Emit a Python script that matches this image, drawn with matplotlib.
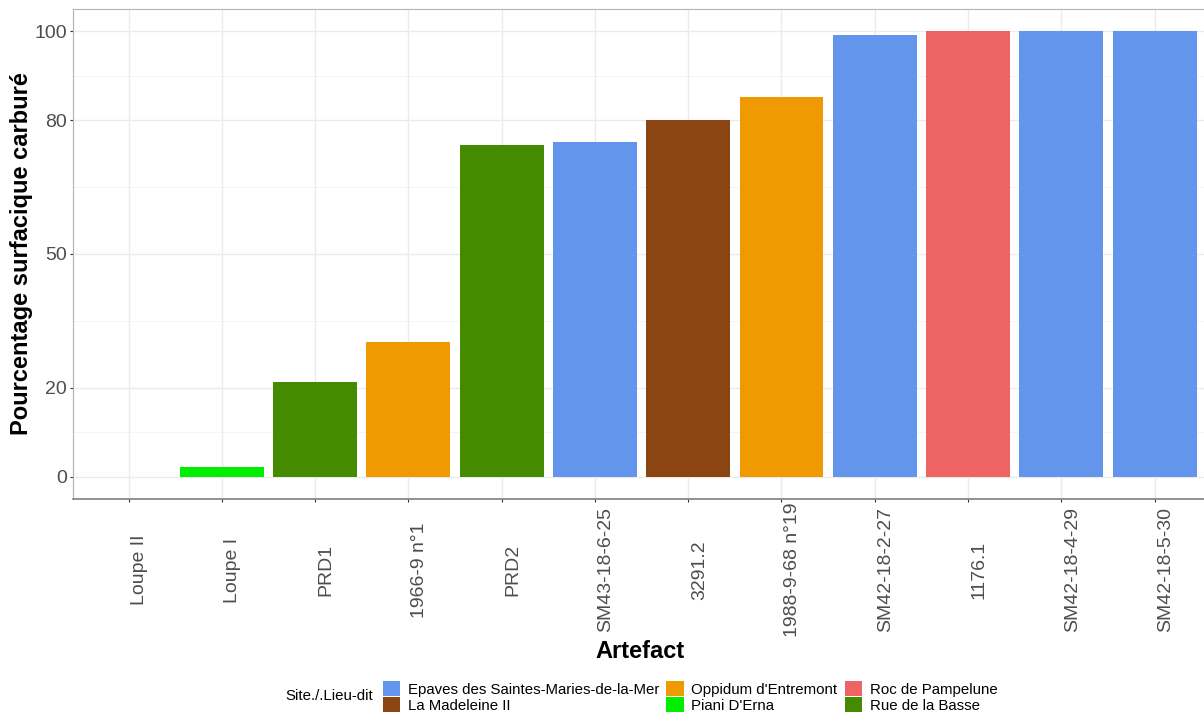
import matplotlib
matplotlib.use("Agg")
import matplotlib.pyplot as plt
from matplotlib.patches import Patch
import matplotlib.transforms as mtransforms

plt.rcParams['font.family'] = ['Liberation Sans', 'DejaVu Sans']

artefacts = ["Loupe II", "Loupe I", "PRD1", "1966-9 n°1", "PRD2", "SM43-18-6-25",
             "3291.2", "1988-9-68 n°19", "SM42-18-2-27", "1176.1", "SM42-18-4-29", "SM42-18-5-30"]
values = [0, 2.2, 21.3, 30.2, 74.5, 75.1, 80.0, 85.2, 99.1, 100, 100, 100]
sites = ["Piani D'Erna", "Piani D'Erna", "Rue de la Basse", "Oppidum d'Entremont", "Rue de la Basse",
         "Epaves des Saintes-Maries-de-la-Mer", "La Madeleine II", "Oppidum d'Entremont",
         "Epaves des Saintes-Maries-de-la-Mer", "Roc de Pampelune",
         "Epaves des Saintes-Maries-de-la-Mer", "Epaves des Saintes-Maries-de-la-Mer"]
site_order = ["Epaves des Saintes-Maries-de-la-Mer", "La Madeleine II", "Oppidum d'Entremont",
              "Piani D'Erna", "Roc de Pampelune", "Rue de la Basse"]
site_colors = ["#6495ED", "#8B4513", "#EE9A00", "#00EE00", "#EE6363", "#458B00"]
yticks = [0, 20, 50, 80, 100]
yminor = [10, 35, 65, 90]

cmap = dict(zip(site_order, site_colors))

fig = plt.figure(figsize=(12.04, 7.14), dpi=100)
# panel extends slightly beyond the right edge of the image, as in the reference
ax = fig.add_axes([72.7/1204, 1 - 499/714, (1210.5-72.7)/1204, (499-9)/714])

x = list(range(len(artefacts)))
ax.bar(x, values, width=0.9, color=[cmap[s] for s in sites], zorder=3, linewidth=0)

ax.set_xlim(-0.6, len(artefacts) - 1 + 0.6)
ax.set_ylim(-5, 105)
ax.set_yticks(yticks)
ax.set_yticks(yminor, minor=True)
ax.set_xticks(x)
ax.grid(True, which='major', color='#EBEBEB', linewidth=1.0, zorder=0)
ax.grid(True, which='minor', axis='y', color='#F2F2F2', linewidth=0.6, zorder=0)
ax.set_axisbelow(True)

for side in ['top', 'right', 'left']:
    ax.spines[side].set_color('#B3B3B3')
    ax.spines[side].set_linewidth(0.8)
ax.spines['bottom'].set_color('#7F7F7F')
ax.spines['bottom'].set_linewidth(1.2)

ax.tick_params(axis='y', which='major', labelsize=14, labelcolor='#4D4D4D', color='#333333',
               length=2.5, width=0.8, pad=1.5)
ax.tick_params(axis='y', which='minor', length=0)
ax.tick_params(axis='x', length=2.5, width=0.8, color='#333333')
ax.set_xticklabels([])

# x labels, rotated, vertically centred below axis, slightly right of the tick
offset = mtransforms.ScaledTranslation(11/100, 0, fig.dpi_scale_trans)
trans = mtransforms.blended_transform_factory(ax.transData, fig.transFigure) + offset
for xi, lab in zip(x, artefacts):
    ax.text(xi, 1 - 570/714, lab, rotation=90, ha='center', va='center', fontsize=14,
            color='#4D4D4D', transform=trans, clip_on=False)

fig.text(22/1204, 1 - 254/714, "Pourcentage surfacique carburé", rotation=90, ha='center', va='center',
         fontsize=17, fontweight='bold', color='black')
fig.text(640/1204, 1 - 652/714, "Artefact", ha='center', va='center', fontsize=17, fontweight='bold')

handles = [Patch(facecolor=c, edgecolor='none') for c in site_colors]
leg = fig.legend(handles, site_order, ncol=3, loc='center', bbox_to_anchor=(690/1204, 1 - 697/714),
                 frameon=False, fontsize=10.8, handlelength=1.15, handleheight=1.15, handletextpad=0.5,
                 columnspacing=0.5, labelspacing=0.02, borderaxespad=0)
fig.text(329/1204, 1 - 696/714, "Site./.Lieu-dit", ha='center', va='center', fontsize=10.8)

fig.savefig("out.png", dpi=100)
